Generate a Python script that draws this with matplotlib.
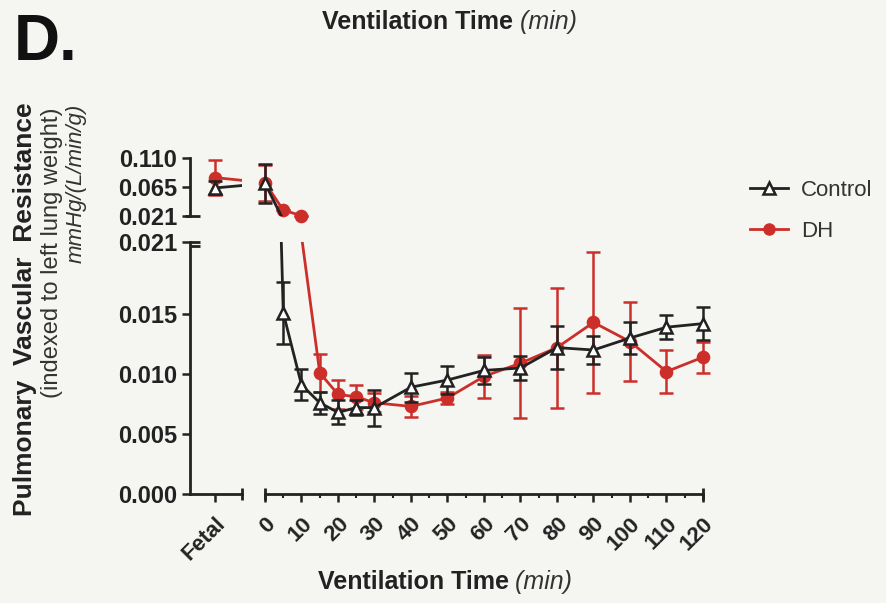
import numpy as np
import matplotlib.pyplot as plt
from matplotlib.lines import Line2D

plt.rcParams['font.family'] = ['Liberation Sans', 'DejaVu Sans']

# ---- data ----
times = [0, 5, 10, 15, 20, 25, 30, 40, 50, 60, 70, 80, 90, 100, 110, 120]
time_ticks = [0, 10, 20, 30, 40, 50, 60, 70, 80, 90, 100, 110, 120]

ctrl_fetal, ctrl_fetal_err = 0.064, 0.010
dh_fetal, dh_fetal_err = 0.080, 0.027

ctrl = [0.071, 0.0151, 0.0091, 0.0076, 0.0068, 0.0072, 0.0072, 0.0089, 0.0095,
        0.0103, 0.0105, 0.0122, 0.0120, 0.0130, 0.0139, 0.0142]
ctrl_err = [0.030, 0.0026, 0.0013, 0.0009, 0.0010, 0.0006, 0.0015, 0.0012, 0.0012,
            0.0011, 0.0010, 0.0018, 0.0012, 0.0013, 0.0010, 0.0014]
dh = [0.072, 0.030, 0.0215, 0.0101, 0.0083, 0.0081, 0.0076, 0.0073, 0.0080,
      0.0098, 0.0109, 0.0122, 0.0143, 0.0127, 0.0102, 0.0114]
dh_err = [0.028, 0.0, 0.0, 0.0016, 0.0012, 0.0010, 0.0008, 0.0009, 0.0005,
          0.0018, 0.0046, 0.0050, 0.0059, 0.0033, 0.0018, 0.0013]

top_ticks = [0.021, 0.065, 0.110]
bot_ticks = [0.000, 0.005, 0.010, 0.015, 0.021]

BLACK = '#222222'
GREY = '#333333'
RED = '#cc2f2a'
BG = '#f5f5f2'

# ---- layout in pixels ----
W, H = 887, 603
fetal_l, fetal_r, fetal_px = 190, 242, 215
time_l, time_r = 265, 703
top_t, top_b = 158, 216
bot_t, bot_b = 242, 494


def box(x0, x1, y0, y1):
    return [x0 / W, 1 - y1 / H, (x1 - x0) / W, (y1 - y0) / H]


fig = plt.figure(figsize=(W / 100, H / 100), dpi=100, facecolor=BG)
ax_ft = fig.add_axes(box(fetal_l, fetal_r, top_t, top_b))
ax_fb = fig.add_axes(box(fetal_l, fetal_r, bot_t, bot_b))
ax_tt = fig.add_axes(box(time_l, time_r, top_t, top_b))
ax_tb = fig.add_axes(box(time_l, time_r, bot_t, bot_b))

# fetal axis: fetal point at 0, 25 px per unit
unit = 25.0
f_lim = ((fetal_l - fetal_px) / unit, (fetal_r - fetal_px) / unit)
gap_x = (time_l - fetal_px) / unit

for ax in (ax_ft, ax_fb, ax_tt, ax_tb):
    ax.set_facecolor('none')
    for s in ax.spines.values():
        s.set_visible(False)
        s.set_linewidth(2)
        s.set_color(BLACK)
    ax.tick_params(width=1.8, length=6, color=BLACK, labelsize=17,
                   labelcolor=BLACK, pad=3)

for ax in (ax_ft, ax_fb):
    ax.set_xlim(*f_lim)
    ax.spines['left'].set_visible(True)
for ax in (ax_tt, ax_tb):
    ax.set_xlim(0, 120)
    ax.set_yticks([])

ax_ft.set_ylim(0.021, 0.110)
ax_tt.set_ylim(0.021, 0.110)
ax_fb.set_ylim(0, 0.021)
ax_tb.set_ylim(0, 0.021)

ax_ft.set_yticks(top_ticks)
ax_ft.set_yticklabels([f'{v:.3f}' for v in top_ticks], fontweight='bold')
ax_fb.set_yticks(bot_ticks)
ax_fb.set_yticklabels([f'{v:.3f}' for v in bot_ticks], fontweight='bold')
ax_ft.set_xticks([])
ax_tt.set_xticks([])

ax_fb.spines['bottom'].set_visible(True)
ax_tb.spines['bottom'].set_visible(True)
ax_fb.set_xticks([0])
ax_fb.set_xticklabels(['Fetal'], rotation=45, ha='right', va='top',
                      rotation_mode='anchor', fontweight='bold', fontsize=16)
ax_tb.set_xticks(time_ticks)
ax_tb.set_xticks(np.arange(5, 120, 10), minor=True)
ax_tb.tick_params(axis='x', which='minor', length=3, width=1.5, color=BLACK)
ax_tb.set_xticklabels([str(t) for t in time_ticks], rotation=45, ha='right',
                      va='top', rotation_mode='anchor', fontweight='bold',
                      fontsize=16)
for ax in (ax_fb, ax_tb):
    ax.tick_params(axis='x', pad=8)

# break caps on the axes
cap = dict(color=BLACK, lw=2, clip_on=False, solid_capstyle='butt')
ax_fb.plot([1, 1], [-0.025, 0.025], transform=ax_fb.transAxes, **cap)
ax_tb.plot([0, 0], [-0.025, 0.025], transform=ax_tb.transAxes, **cap)
ax_tb.plot([1, 1], [-0.025, 0.025], transform=ax_tb.transAxes, **cap)
ax_ft.plot([-0.1, 0.2], [0, 0], transform=ax_ft.transAxes, **cap)
ax_fb.plot([0, 0.2], [1.0, 1.0], transform=ax_fb.transAxes, **cap)
ax_fb.plot([0, 0.2], [0.985, 0.985], transform=ax_fb.transAxes, **cap)

series = [
    (dh, dh_err, dh_fetal, dh_fetal_err, RED, 'o', RED, 3),
    (ctrl, ctrl_err, ctrl_fetal, ctrl_fetal_err, BLACK, '^', 'white', 4),
]

for vals, errs, fv, fe, color, marker, mfc, z in series:
    vals = np.array(vals)
    errs = np.array(errs)
    t = np.array(times)
    for ax, lo, hi in ((ax_tt, 0.021, 0.110), (ax_tb, 0.0, 0.021)):
        ax.plot(t, vals, color=color, lw=2, zorder=z)
        m = (vals >= lo) & (vals <= hi)
        eb = ax.errorbar(t[m], vals[m], yerr=errs[m], fmt=marker, ms=8,
                         mfc=mfc, mec=color, mew=1.8, ecolor=color,
                         elinewidth=1.8, capsize=5, capthick=1.8, zorder=z)
        eb.lines[0].set_clip_on(False)
        for a in eb.lines[1]:
            a.set_clip_on(False)
        for coll in eb.lines[2]:
            coll.set_clip_on(False)
    # fetal group with its link toward time 0
    ax_ft.plot([0, gap_x], [fv, vals[0]], color=color, lw=2, zorder=z)
    ax_ft.errorbar([0], [fv], yerr=[fe], fmt=marker, ms=8, mfc=mfc,
                   mec=color, mew=1.8, ecolor=color, elinewidth=1.8,
                   capsize=5, capthick=1.8, zorder=z)

# legend
handles = [
    Line2D([], [], color=BLACK, lw=2, marker='^', ms=8, mfc='white', mec=BLACK, mew=1.8),
    Line2D([], [], color=RED, lw=2, marker='o', ms=8, mfc=RED, mec=RED),
]
leg = fig.legend(handles, ['Control', 'DH'], loc='upper left',
                 bbox_to_anchor=(730 / W, 1 - 160 / H), frameon=False,
                 fontsize=16, handlelength=1.7, handletextpad=0.6,
                 labelspacing=0.9)
for txt in leg.get_texts():
    txt.set_color(GREY)

# axis titles: bold "Ventilation Time" + italic "(min)", centred as a pair
fig.canvas.draw()
renderer = fig.canvas.get_renderer()
for ypx, cx in ((22, 450), (582, 445)):
    t1 = fig.text(0, 1 - ypx / H, 'Ventilation Time', fontsize=18,
                  fontweight='bold', color=BLACK, ha='left', va='center')
    t2 = fig.text(0, 1 - ypx / H, ' (min)', fontsize=18, style='italic',
                  color=GREY, ha='left', va='center')
    w1 = t1.get_window_extent(renderer).width
    w2 = t2.get_window_extent(renderer).width
    x0 = cx - (w1 + w2) / 2
    t1.set_x(x0 / W)
    t2.set_x((x0 + w1) / W)

fig.text(14 / W, 1 - 43 / H, 'D.', fontsize=46, fontweight='bold',
         color='#111111', ha='left', va='center')

fig.text(25 / W, 1 - 102 / H, 'Pulmonary  Vascular  Resistance', rotation=90,
         fontsize=19, fontweight='bold', color=BLACK, ha='center', va='top')
fig.text(52 / W, 1 - 108 / H, '(indexed to left lung weight)', rotation=90,
         fontsize=17, color=GREY, ha='center', va='top')
fig.text(76 / W, 1 - 104 / H, 'mmHg/(L/min/g)', rotation=90,
         fontsize=16, style='italic', color=GREY, ha='center', va='top')

fig.savefig('out.png', dpi=100, facecolor=BG)
